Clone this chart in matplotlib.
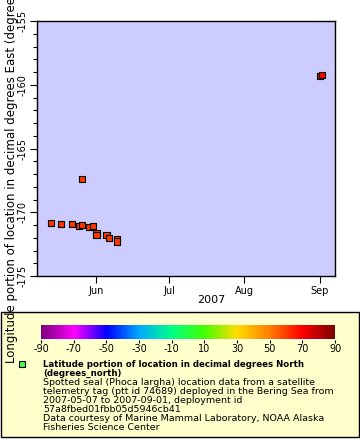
import matplotlib
matplotlib.use('Agg')
import matplotlib.pyplot as plt
from matplotlib.colors import LinearSegmentedColormap, Normalize
from matplotlib.patches import Rectangle
import numpy as np
import pandas as pd

# data
times = ['2007-05-13 10:00', '2007-05-17 06:00', '2007-05-22 02:00', '2007-05-24 19:00',
         '2007-05-26 05:00', '2007-05-26 05:00', '2007-05-28 22:00', '2007-05-30 12:00',
         '2007-06-01 00:00', '2007-06-01 00:00', '2007-06-05 03:00', '2007-06-06 03:00',
         '2007-06-09 08:00', '2007-06-09 08:00', '2007-09-01 00:00', '2007-09-01 22:00']
lon = [-170.82, -170.9, -170.9, -171.05, -170.98, -167.37, -171.13, -171.05,
       -171.65, -171.8, -171.8, -172.0, -172.1, -172.3, -159.3, -159.24]
lat = [61.5, 61.5, 61.5, 61.4, 61.5, 61.8, 61.4, 61.4,
       61.3, 61.3, 61.2, 61.2, 61.1, 61.1, 69.5, 69.5]

month_ticks = ['2007-06-01', '2007-07-01', '2007-08-01', '2007-09-01']
month_labels = ['Jun', 'Jul', 'Aug', 'Sep']
cbar_ticks = list(range(-90, 91, 20))

legend_bold = ['Latitude portion of location in decimal degrees North', '(degrees_north)']
legend_lines = ['Spotted seal (Phoca largha) location data from a satellite',
                'telemetry tag (ptt id 74689) deployed in the Bering Sea from',
                '2007-05-07 to 2007-09-01, deployment id',
                '57a8fbed01fbb05d5946cb41',
                'Data courtesy of Marine Mammal Laboratory, NOAA Alaska',
                'Fisheries Science Center']

rainbow = LinearSegmentedColormap.from_list('rainbow2', [
    (0.0, '#800080'), (1/9, '#ff00ff'), (2/9, '#0000ff'), (3/9, '#00aaff'),
    (4/9, '#00ff88'), (5/9, '#44ff00'), (6/9, '#ffdd00'), (7/9, '#ff8000'),
    (8/9, '#ff0000'), (1.0, '#800000')])
norm = Normalize(-90, 90)

W, H = 360, 440
fig = plt.figure(figsize=(W / 100, H / 100), dpi=100)
plt.rcParams['font.family'] = ['DejaVu Sans']

def fx(px):
    return px / W

def fy(py):
    return 1 - py / H

# legend box behind everything
fig.patches.append(Rectangle((fx(1), fy(437)), fx(358), (437 - 312) / H,
                             transform=fig.transFigure, facecolor='#ffffcc',
                             edgecolor='black', linewidth=1, zorder=-5))

ax = fig.add_axes([fx(37), fy(276), fx(298), (276 - 21) / H])
ax.set_facecolor('#ccccff')
t = pd.to_datetime(times)
ax.scatter(t, lon, c=lat, cmap=rainbow, norm=norm, marker='s', s=20,
           edgecolors='black', linewidths=0.8, zorder=3)
ax.set_xlim(pd.Timestamp('2007-05-07 12:00'), pd.Timestamp('2007-09-07 08:00'))
ax.set_ylim(-175, -155)
ax.set_xticks(pd.to_datetime(month_ticks))
ax.set_xticklabels(month_labels, fontsize=7)
ax.set_yticks(range(-175, -154, 5))
ax.set_yticks(range(-175, -154, 1), minor=True)
ax.set_yticklabels([str(v) for v in range(-175, -154, 5)], rotation=90, va='center', fontsize=7)
ax.tick_params(axis='both', which='major', length=5, width=0.8, pad=2)
ax.tick_params(axis='y', which='minor', length=3, width=0.8)
for s in ax.spines.values():
    s.set_linewidth(1)

fig.text(fx(211), fy(300), '2007', ha='center', va='center', fontsize=8)
fig.text(fx(12), fy(363),
         'Longitude portion of location in decimal degrees East (degrees_east)',
         rotation=90, ha='center', va='bottom', fontsize=8.5, zorder=5)

# colorbar
cax = fig.add_axes([fx(41), fy(339.5), fx(294), 14.5 / H])
cax.set_zorder(2)
cax.imshow(np.linspace(-90, 90, 300)[None, :], aspect='auto', cmap=rainbow, norm=norm,
           extent=[-90, 90, 0, 1])
cax.set_xlim(-90, 90)
cax.set_yticks([])
cax.set_xticks(cbar_ticks)
cax.set_xticklabels([str(v) for v in cbar_ticks], fontsize=7)
cax.tick_params(axis='x', length=2, width=0.8, pad=1)
for s in cax.spines.values():
    s.set_visible(False)

# legend marker and text
fig.add_artist(plt.Line2D([fx(22)], [fy(363.5)], marker='s', markersize=4.5,
                          markerfacecolor='#44ff44', markeredgecolor='black',
                          markeredgewidth=0.8, transform=fig.transFigure, zorder=3))
y0 = 364
for i, line in enumerate(legend_bold + legend_lines):
    fig.text(fx(43), fy(y0 + i * 9), line, ha='left', va='center',
             fontsize=6.2 if i < 2 else 6.8,
             fontweight='bold' if i < 2 else 'normal', zorder=3)

fig.savefig('out.png', dpi=100)
